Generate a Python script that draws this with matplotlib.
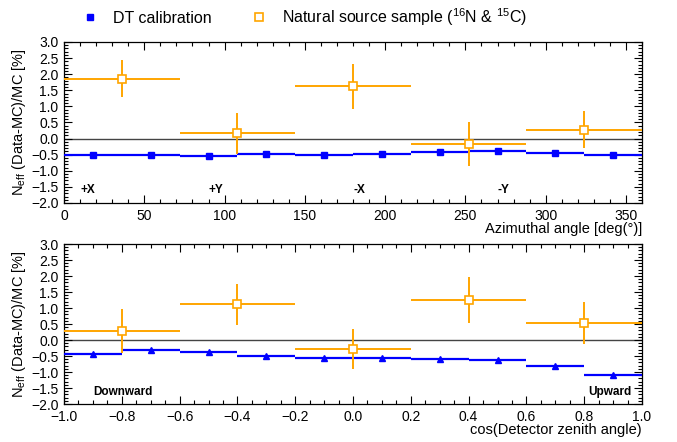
import matplotlib
matplotlib.use('Agg')
import matplotlib.pyplot as plt
import numpy as np
from matplotlib.ticker import MultipleLocator, FuncFormatter
from matplotlib.lines import Line2D

plt.rcParams['font.family'] = ['Liberation Sans', 'DejaVu Sans']
plt.rcParams['mathtext.fontset'] = 'custom'
plt.rcParams['mathtext.rm'] = 'Liberation Sans'

# azimuthal angle panel
az_dt_x = np.arange(18, 360, 36)
az_dt_y = [-0.51, -0.51, -0.53, -0.47, -0.50, -0.49, -0.43, -0.40, -0.44, -0.50]
az_ns_x = np.arange(36, 360, 72)
az_ns_y = [1.86, 0.16, 1.63, -0.17, 0.28]
az_ns_err = [0.57, 0.64, 0.70, 0.68, 0.58]
az_labels = ['+X', '+Y', '-X', '-Y']
az_label_x = [10, 90, 180, 270]

# zenith panel
zen_dt_x = np.arange(-0.9, 1.0, 0.2)
zen_dt_y = [-0.44, -0.31, -0.39, -0.49, -0.55, -0.57, -0.60, -0.63, -0.80, -1.09]
zen_ns_x = np.array([-0.8, -0.4, 0.0, 0.4, 0.8])
zen_ns_y = [0.29, 1.11, -0.28, 1.25, 0.53]
zen_ns_err = [0.69, 0.63, 0.63, 0.72, 0.65]

blue = '#0000ff'
orange = '#ffa500'

fig = plt.figure(figsize=(6.77, 4.42), dpi=100)
ax1 = fig.add_axes([64/677, 1-203/442, 578/677, 161/442])
ax2 = fig.add_axes([64/677, 1-404/442, 578/677, 160/442])

ylab = r'N$_{\mathregular{eff}}$ (Data-MC)/MC [%]'

def fmt(pattern):
    return FuncFormatter(lambda v, p: (pattern % v).replace('-', '\u2212'))

def style(ax, xmaj, xmin):
    ax.set_ylim(-2.0, 3.0)
    ax.axhline(0, color='#444444', lw=1.0, zorder=1)
    ax.yaxis.set_major_locator(MultipleLocator(0.5))
    ax.yaxis.set_minor_locator(MultipleLocator(0.1))
    ax.xaxis.set_major_locator(MultipleLocator(xmaj))
    ax.xaxis.set_minor_locator(MultipleLocator(xmin))
    ax.tick_params(which='both', direction='in', top=True, right=True,
                   labelsize=10, width=0.8)
    ax.tick_params(which='major', length=6, pad=4)
    ax.tick_params(which='minor', length=3)
    ax.yaxis.set_major_formatter(fmt('%.1f'))
    ax.set_ylabel(ylab, fontsize=10.5, labelpad=2)
    for s in ax.spines.values():
        s.set_linewidth(0.9)

# top
ax1.errorbar(az_dt_x, az_dt_y, xerr=18, fmt='s', color=blue, ms=4.5,
             elinewidth=1.6, capsize=0, zorder=3)
ax1.errorbar(az_ns_x, az_ns_y, xerr=36, yerr=az_ns_err, fmt='s', color=orange,
             mfc='white', mec=orange, mew=1.2, ms=6, elinewidth=1.4, capsize=0, zorder=4)
ax1.set_xlim(0, 360)
style(ax1, 50, 10)
ax1.xaxis.set_major_formatter(fmt('%d'))
for lab, x in zip(az_labels, az_label_x):
    ax1.text(x, -1.7, lab, fontsize=8.5, fontweight='bold', ha='left', va='baseline')
ax1.set_xlabel('Azimuthal angle [deg(°)]', fontsize=10.5, labelpad=0)
ax1.xaxis.set_label_coords(1.0, -0.12)
ax1.xaxis.label.set_ha('right')

# bottom
ax2.errorbar(zen_dt_x, zen_dt_y, xerr=0.1, fmt='^', color=blue, ms=5,
             elinewidth=1.6, capsize=0, zorder=3)
ax2.errorbar(zen_ns_x, zen_ns_y, xerr=0.2, yerr=zen_ns_err, fmt='s', color=orange,
             mfc='white', mec=orange, mew=1.2, ms=6, elinewidth=1.4, capsize=0, zorder=4)
ax2.set_xlim(-1.0, 1.0)
style(ax2, 0.2, 0.05)
ax2.xaxis.set_major_formatter(fmt('%.1f'))
ax2.text(-0.9, -1.72, 'Downward', fontsize=8.5, fontweight='bold', ha='left', va='baseline')
ax2.text(0.965, -1.72, 'Upward', fontsize=8.5, fontweight='bold', ha='right', va='baseline')
ax2.set_xlabel('cos(Detector zenith angle)', fontsize=10.5, labelpad=0)
ax2.xaxis.set_label_coords(1.0, -0.12)
ax2.xaxis.label.set_ha('right')

handles = [Line2D([], [], ls='none', marker='s', color=blue, ms=5),
           Line2D([], [], ls='none', marker='s', mfc='white', mec=orange, mew=1.2, ms=6)]
fig.legend(handles, ['DT calibration', r'Natural source sample ($^{16}$N & $^{15}$C)'],
           loc='upper left', bbox_to_anchor=(76/677, 1.0), ncol=2, frameon=False,
           fontsize=11.5, handletextpad=0.9, columnspacing=2.5, borderaxespad=0.0,
           handlelength=1.0)

fig.savefig('out.png', dpi=100)
